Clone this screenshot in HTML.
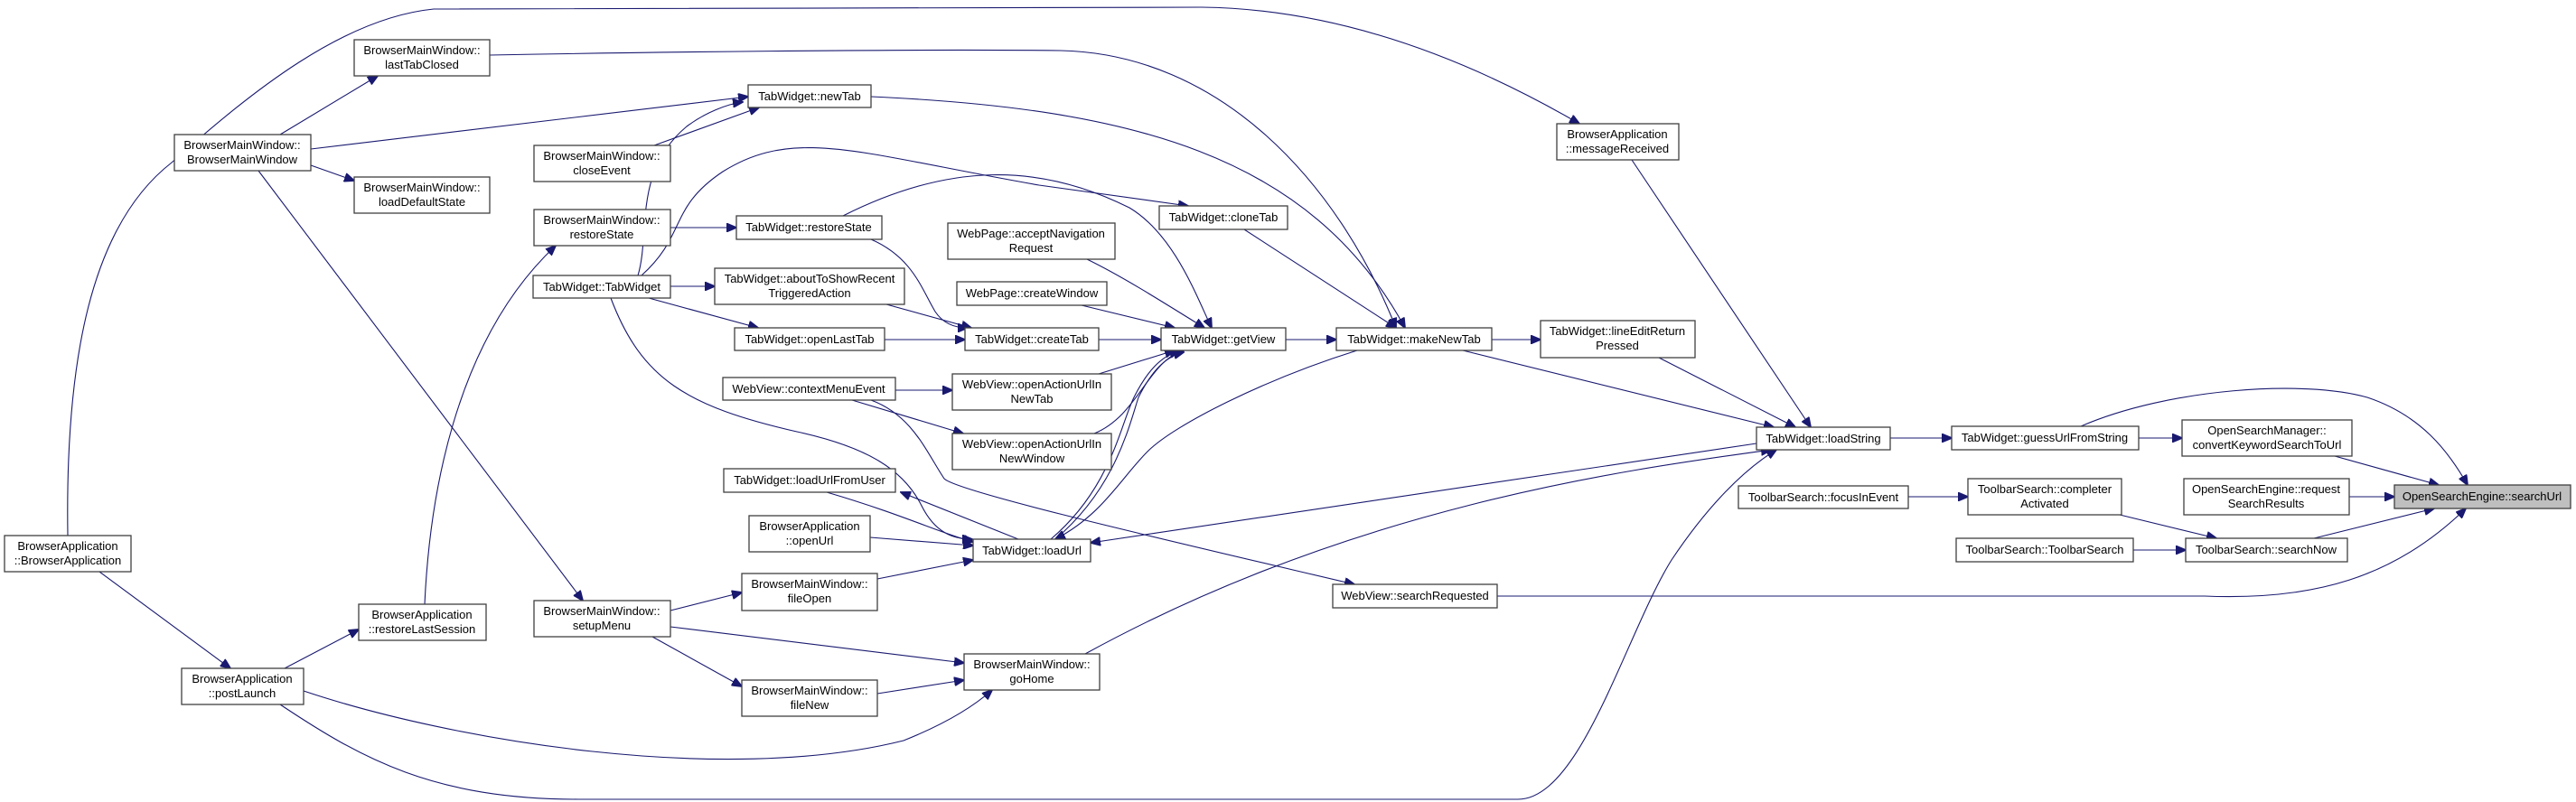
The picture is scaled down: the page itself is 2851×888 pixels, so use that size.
<!DOCTYPE html>
<html><head><meta charset="utf-8"><style>
html,body{margin:0;padding:0;background:#fff;}
svg{display:block;}
text{font-family:"Liberation Sans",sans-serif;font-size:13px;fill:#000;}
.n{fill:#fff;stroke:#404040;stroke-width:1.3;}
.e{fill:none;stroke:#191970;stroke-width:1.1;}
</style></head><body>
<svg width="2851" height="888" viewBox="0 0 2851 888" xmlns="http://www.w3.org/2000/svg">
<defs><marker id="a" markerWidth="12" markerHeight="10" refX="11" refY="5" orient="auto" markerUnits="userSpaceOnUse"><path d="M0,0 L12,5 L0,10 Z" fill="#191970" stroke="#191970"/></marker></defs>
<g class="e" marker-end="url(#a)">
<path d="M110,633 L255,740"/>
<path d="M75,593 C72,400 100,250 190,180 C280,100 380,20 480,10 L1330,8 C1500,10 1650,80 1748,137"/>
<path d="M315,740 L397,697"/>
<path d="M336,765 C500,820 800,870 1000,820 C1050,800 1080,780 1098,764"/>
<path d="M310,780 C400,840 480,885 640,885 L1680,885 C1750,885 1800,700 1850,620 C1890,560 1930,520 1966,498"/>
<path d="M470,669 C475,560 500,380 615,272"/>
<path d="M310,149 L418,84"/>
<path d="M344,165 L828,107"/>
<path d="M344,183 L392,200"/>
<path d="M286,189 L645,665"/>
<path d="M542,61 C700,58 1000,54 1174,56 C1350,60 1480,200 1545,363"/>
<path d="M724,161 L840,119"/>
<path d="M706,305 C720,260 700,190 760,140 C780,125 805,115 822,113"/>
<path d="M710,305 C760,260 740,230 800,190 C880,140 950,170 1150,205 C1220,215 1290,225 1315,228"/>
<path d="M742,317 L791,317"/>
<path d="M718,330 L839,363"/>
<path d="M676,330 C710,420 760,450 882,478 C960,495 1000,520 1020,560 C1035,590 1055,597 1076,597"/>
<path d="M742,252 L815,252"/>
<path d="M964,265 C1010,285 1020,320 1035,345 C1045,360 1060,363 1071,363"/>
<path d="M933,239 C1050,180 1150,180 1250,230 C1300,260 1325,330 1341,363"/>
<path d="M981,337 L1075,363"/>
<path d="M979,376 L1068,376"/>
<path d="M1203,287 C1240,305 1280,330 1333,363"/>
<path d="M1197,338 L1300,363"/>
<path d="M1216,376 L1285,376"/>
<path d="M1216,414 L1300,388"/>
<path d="M1211,480 C1260,460 1270,400 1310,388"/>
<path d="M991,432 L1054,432"/>
<path d="M943,443 L1066,480"/>
<path d="M964,443 C1010,460 1025,500 1045,530 C1060,545 1300,600 1499,647"/>
<path d="M1163,597 C1230,540 1240,470 1255,440 C1270,410 1285,395 1305,388"/>
<path d="M1168,597 C1235,540 1250,470 1260,440 C1275,410 1290,395 1310,390"/>
<path d="M1502,388 C1400,420 1300,470 1270,500 C1240,530 1220,570 1168,597"/>
<path d="M1127,597 L997,545"/>
<path d="M915,545 C1000,570 1040,590 1077,600"/>
<path d="M963,595 L1077,604"/>
<path d="M971,641 L1077,620"/>
<path d="M1944,491 L1207,601"/>
<path d="M742,676 L821,656"/>
<path d="M742,694 L1067,734"/>
<path d="M722,705 L821,760"/>
<path d="M971,768 L1067,753"/>
<path d="M1201,724 C1500,560 1800,520 1960,498"/>
<path d="M1377,254 L1545,363"/>
<path d="M964,107 C1250,120 1450,170 1555,363"/>
<path d="M1423,376 L1479,376"/>
<path d="M1651,376 L1705,376"/>
<path d="M1619,388 L1963,473"/>
<path d="M1836,396 L1987,473"/>
<path d="M1806,177 L2004,473"/>
<path d="M2092,485 L2160,485"/>
<path d="M2367,485 L2415,485"/>
<path d="M2303,472 C2400,430 2550,420 2620,440 C2680,460 2710,500 2731,537"/>
<path d="M2584,505 L2699,537"/>
<path d="M2600,550 L2650,550"/>
<path d="M2561,596 L2694,563"/>
<path d="M1657,660 L2440,660 C2560,665 2650,640 2729,563"/>
<path d="M2112,550 L2178,550"/>
<path d="M2346,570 L2453,596"/>
<path d="M2361,609 L2419,609"/>
</g>
<g>
<rect class="n" x="5" y="593" width="140" height="40"/><text x="75" y="609" text-anchor="middle">BrowserApplication</text><text x="75" y="625" text-anchor="middle">::BrowserApplication</text>
<rect class="n" x="201" y="740" width="135" height="40"/><text x="268" y="756" text-anchor="middle">BrowserApplication</text><text x="268" y="772" text-anchor="middle">::postLaunch</text>
<rect class="n" x="397" y="669" width="141" height="40"/><text x="467" y="685" text-anchor="middle">BrowserApplication</text><text x="467" y="701" text-anchor="middle">::restoreLastSession</text>
<rect class="n" x="193" y="149" width="151" height="40"/><text x="268" y="165" text-anchor="middle">BrowserMainWindow::</text><text x="268" y="181" text-anchor="middle">BrowserMainWindow</text>
<rect class="n" x="392" y="44" width="150" height="40"/><text x="467" y="60" text-anchor="middle">BrowserMainWindow::</text><text x="467" y="76" text-anchor="middle">lastTabClosed</text>
<rect class="n" x="392" y="196" width="150" height="40"/><text x="467" y="212" text-anchor="middle">BrowserMainWindow::</text><text x="467" y="228" text-anchor="middle">loadDefaultState</text>
<rect class="n" x="591" y="161" width="151" height="40"/><text x="666" y="177" text-anchor="middle">BrowserMainWindow::</text><text x="666" y="193" text-anchor="middle">closeEvent</text>
<rect class="n" x="591" y="232" width="151" height="40"/><text x="666" y="248" text-anchor="middle">BrowserMainWindow::</text><text x="666" y="264" text-anchor="middle">restoreState</text>
<rect class="n" x="590" y="305" width="152" height="25"/><text x="666" y="322" text-anchor="middle">TabWidget::TabWidget</text>
<rect class="n" x="591" y="665" width="151" height="40"/><text x="666" y="681" text-anchor="middle">BrowserMainWindow::</text><text x="666" y="697" text-anchor="middle">setupMenu</text>
<rect class="n" x="828" y="94" width="136" height="25"/><text x="896" y="111" text-anchor="middle">TabWidget::newTab</text>
<rect class="n" x="815" y="239" width="161" height="26"/><text x="895" y="256" text-anchor="middle">TabWidget::restoreState</text>
<rect class="n" x="791" y="297" width="210" height="40"/><text x="896" y="313" text-anchor="middle">TabWidget::aboutToShowRecent</text><text x="896" y="329" text-anchor="middle">TriggeredAction</text>
<rect class="n" x="813" y="363" width="166" height="25"/><text x="896" y="380" text-anchor="middle">TabWidget::openLastTab</text>
<rect class="n" x="800" y="418" width="191" height="25"/><text x="895" y="435" text-anchor="middle">WebView::contextMenuEvent</text>
<rect class="n" x="801" y="519" width="190" height="26"/><text x="896" y="536" text-anchor="middle">TabWidget::loadUrlFromUser</text>
<rect class="n" x="829" y="571" width="134" height="40"/><text x="896" y="587" text-anchor="middle">BrowserApplication</text><text x="896" y="603" text-anchor="middle">::openUrl</text>
<rect class="n" x="821" y="635" width="150" height="41"/><text x="896" y="651" text-anchor="middle">BrowserMainWindow::</text><text x="896" y="667" text-anchor="middle">fileOpen</text>
<rect class="n" x="821" y="753" width="150" height="40"/><text x="896" y="769" text-anchor="middle">BrowserMainWindow::</text><text x="896" y="785" text-anchor="middle">fileNew</text>
<rect class="n" x="1067" y="724" width="150" height="40"/><text x="1142" y="740" text-anchor="middle">BrowserMainWindow::</text><text x="1142" y="756" text-anchor="middle">goHome</text>
<rect class="n" x="1049" y="247" width="185" height="40"/><text x="1141" y="263" text-anchor="middle">WebPage::acceptNavigation</text><text x="1141" y="279" text-anchor="middle">Request</text>
<rect class="n" x="1059" y="312" width="166" height="26"/><text x="1142" y="329" text-anchor="middle">WebPage::createWindow</text>
<rect class="n" x="1068" y="363" width="148" height="25"/><text x="1142" y="380" text-anchor="middle">TabWidget::createTab</text>
<rect class="n" x="1054" y="414" width="176" height="40"/><text x="1142" y="430" text-anchor="middle">WebView::openActionUrlIn</text><text x="1142" y="446" text-anchor="middle">NewTab</text>
<rect class="n" x="1054" y="480" width="176" height="40"/><text x="1142" y="496" text-anchor="middle">WebView::openActionUrlIn</text><text x="1142" y="512" text-anchor="middle">NewWindow</text>
<rect class="n" x="1077" y="597" width="130" height="25"/><text x="1142" y="614" text-anchor="middle">TabWidget::loadUrl</text>
<rect class="n" x="1283" y="228" width="142" height="26"/><text x="1354" y="245" text-anchor="middle">TabWidget::cloneTab</text>
<rect class="n" x="1285" y="363" width="138" height="25"/><text x="1354" y="380" text-anchor="middle">TabWidget::getView</text>
<rect class="n" x="1479" y="363" width="172" height="25"/><text x="1565" y="380" text-anchor="middle">TabWidget::makeNewTab</text>
<rect class="n" x="1475" y="647" width="182" height="26"/><text x="1566" y="664" text-anchor="middle">WebView::searchRequested</text>
<rect class="n" x="1723" y="137" width="135" height="40"/><text x="1790" y="153" text-anchor="middle">BrowserApplication</text><text x="1790" y="169" text-anchor="middle">::messageReceived</text>
<rect class="n" x="1705" y="355" width="171" height="41"/><text x="1790" y="371" text-anchor="middle">TabWidget::lineEditReturn</text><text x="1790" y="387" text-anchor="middle">Pressed</text>
<rect class="n" x="1944" y="473" width="148" height="25"/><text x="2018" y="490" text-anchor="middle">TabWidget::loadString</text>
<rect class="n" x="1924" y="538" width="188" height="25"/><text x="2018" y="555" text-anchor="middle">ToolbarSearch::focusInEvent</text>
<rect class="n" x="2160" y="472" width="207" height="26"/><text x="2263" y="489" text-anchor="middle">TabWidget::guessUrlFromString</text>
<rect class="n" x="2178" y="530" width="170" height="40"/><text x="2263" y="546" text-anchor="middle">ToolbarSearch::completer</text><text x="2263" y="562" text-anchor="middle">Activated</text>
<rect class="n" x="2165" y="596" width="196" height="26"/><text x="2263" y="613" text-anchor="middle">ToolbarSearch::ToolbarSearch</text>
<rect class="n" x="2415" y="465" width="188" height="40"/><text x="2509" y="481" text-anchor="middle">OpenSearchManager::</text><text x="2509" y="497" text-anchor="middle">convertKeywordSearchToUrl</text>
<rect class="n" x="2417" y="530" width="183" height="40"/><text x="2508" y="546" text-anchor="middle">OpenSearchEngine::request</text><text x="2508" y="562" text-anchor="middle">SearchResults</text>
<rect class="n" x="2419" y="596" width="179" height="26"/><text x="2508" y="613" text-anchor="middle">ToolbarSearch::searchNow</text>
<rect class="n" x="2650" y="537" width="195" height="26" style="fill:#bfbfbf"/><text x="2747" y="554" text-anchor="middle">OpenSearchEngine::searchUrl</text>
</g>
</svg>
</body></html>
